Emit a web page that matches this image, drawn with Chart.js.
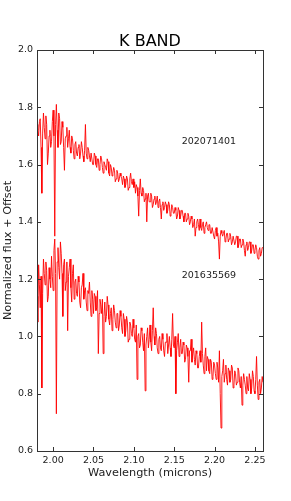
<!DOCTYPE html>
<html>
<head>
<meta charset="utf-8">
<script src="https://cdn.jsdelivr.net/npm/chart.js@4/dist/chart.umd.min.js"></script>
<style>
  body { margin: 0; background: #fff; }
  canvas { display: block; }
</style>
</head>
<body>
<canvas id="grafico" width="291" height="501"></canvas>
<script>
// wavelength grid (microns)
var wavelength = [
  1.980, 1.981, 1.982, 1.983, 1.984, 1.985, 1.986, 1.987, 1.988, 1.989,
  1.990, 1.991, 1.992, 1.993, 1.994, 1.995, 1.996, 1.997, 1.998, 1.999,
  2.000, 2.001, 2.002, 2.003, 2.004, 2.005, 2.006, 2.007, 2.008, 2.009,
  2.010, 2.011, 2.012, 2.013, 2.014, 2.015, 2.016, 2.017, 2.018, 2.019,
  2.020, 2.021, 2.022, 2.023, 2.024, 2.025, 2.026, 2.027, 2.028, 2.029,
  2.030, 2.031, 2.032, 2.033, 2.034, 2.035, 2.036, 2.037, 2.038, 2.039,
  2.040, 2.041, 2.042, 2.043, 2.044, 2.045, 2.046, 2.047, 2.048, 2.049,
  2.050, 2.051, 2.052, 2.053, 2.054, 2.055, 2.056, 2.057, 2.058, 2.059,
  2.060, 2.061, 2.062, 2.063, 2.064, 2.065, 2.066, 2.067, 2.068, 2.069,
  2.070, 2.071, 2.072, 2.073, 2.074, 2.075, 2.076, 2.077, 2.078, 2.079,
  2.080, 2.081, 2.082, 2.083, 2.084, 2.085, 2.086, 2.087, 2.088, 2.089,
  2.090, 2.091, 2.092, 2.093, 2.094, 2.095, 2.096, 2.097, 2.098, 2.099,
  2.100, 2.101, 2.102, 2.103, 2.104, 2.105, 2.106, 2.107, 2.108, 2.109,
  2.110, 2.111, 2.112, 2.113, 2.114, 2.115, 2.116, 2.117, 2.118, 2.119,
  2.120, 2.121, 2.122, 2.123, 2.124, 2.125, 2.126, 2.127, 2.128, 2.129,
  2.130, 2.131, 2.132, 2.133, 2.134, 2.135, 2.136, 2.137, 2.138, 2.139,
  2.140, 2.141, 2.142, 2.143, 2.144, 2.145, 2.146, 2.147, 2.148, 2.149,
  2.150, 2.151, 2.152, 2.153, 2.154, 2.155, 2.156, 2.157, 2.158, 2.159,
  2.160, 2.161, 2.162, 2.163, 2.164, 2.165, 2.166, 2.167, 2.168, 2.169,
  2.170, 2.171, 2.172, 2.173, 2.174, 2.175, 2.176, 2.177, 2.178, 2.179,
  2.180, 2.181, 2.182, 2.183, 2.184, 2.185, 2.186, 2.187, 2.188, 2.189,
  2.190, 2.191, 2.192, 2.193, 2.194, 2.195, 2.196, 2.197, 2.198, 2.199,
  2.200, 2.201, 2.202, 2.203, 2.204, 2.205, 2.206, 2.207, 2.208, 2.209,
  2.210, 2.211, 2.212, 2.213, 2.214, 2.215, 2.216, 2.217, 2.218, 2.219,
  2.220, 2.221, 2.222, 2.223, 2.224, 2.225, 2.226, 2.227, 2.228, 2.229,
  2.230, 2.231, 2.232, 2.233, 2.234, 2.235, 2.236, 2.237, 2.238, 2.239,
  2.240, 2.241, 2.242, 2.243, 2.244, 2.245, 2.246, 2.247, 2.248, 2.249,
  2.250, 2.251, 2.252, 2.253, 2.254, 2.255, 2.256, 2.257, 2.258, 2.259,
  2.260
];

// 202071401 (offset spectrum, top)
var flux202071401 = [
  1.74, 1.72, 1.70, 1.75, 1.76, 1.66, 1.50, 1.71, 1.78, 1.73,
  1.69, 1.77, 1.74, 1.60, 1.64, 1.70, 1.72, 1.66, 1.68, 1.75,
  1.79, 1.70, 1.35, 1.74, 1.81, 1.72, 1.66, 1.78, 1.76, 1.67,
  1.68, 1.75, 1.73, 1.66, 1.58, 1.69, 1.70, 1.73, 1.66, 1.69,
  1.72, 1.66, 1.64, 1.70, 1.69, 1.65, 1.62, 1.67, 1.68, 1.64,
  1.63, 1.66, 1.67, 1.62, 1.64, 1.68, 1.66, 1.63, 1.61, 1.65,
  1.74, 1.64, 1.62, 1.66, 1.65, 1.63, 1.61, 1.64, 1.64, 1.60,
  1.60, 1.64, 1.63, 1.60, 1.59, 1.62, 1.62, 1.58, 1.60, 1.63,
  1.62, 1.59, 1.57, 1.61, 1.60, 1.59, 1.58, 1.62, 1.61, 1.57,
  1.56, 1.60, 1.59, 1.56, 1.57, 1.59, 1.58, 1.54, 1.55, 1.58,
  1.57, 1.54, 1.55, 1.57, 1.56, 1.55, 1.53, 1.56, 1.55, 1.52,
  1.53, 1.56, 1.55, 1.51, 1.52, 1.55, 1.57, 1.54, 1.53, 1.55,
  1.52, 1.54, 1.50, 1.53, 1.52, 1.49, 1.42, 1.51, 1.55, 1.50,
  1.49, 1.52, 1.51, 1.47, 1.48, 1.50, 1.40, 1.49, 1.50, 1.47,
  1.47, 1.50, 1.49, 1.45, 1.46, 1.48, 1.49, 1.46, 1.47, 1.49,
  1.45, 1.47, 1.48, 1.45, 1.41, 1.46, 1.47, 1.44, 1.45, 1.47,
  1.46, 1.43, 1.44, 1.47, 1.46, 1.42, 1.43, 1.46, 1.45, 1.43,
  1.43, 1.45, 1.44, 1.41, 1.42, 1.45, 1.44, 1.41, 1.42, 1.44,
  1.44, 1.42, 1.40, 1.43, 1.43, 1.40, 1.41, 1.43, 1.42, 1.39,
  1.40, 1.42, 1.41, 1.38, 1.39, 1.41, 1.35, 1.38, 1.40, 1.41,
  1.39, 1.37, 1.41, 1.38, 1.37, 1.39, 1.40, 1.36, 1.38, 1.39,
  1.40, 1.38, 1.37, 1.39, 1.39, 1.36, 1.36, 1.38, 1.38, 1.35,
  1.34, 1.37, 1.38, 1.35, 1.36, 1.33, 1.27, 1.35, 1.37, 1.36,
  1.35, 1.36, 1.37, 1.33, 1.34, 1.36, 1.36, 1.33, 1.34, 1.36,
  1.35, 1.32, 1.33, 1.35, 1.35, 1.32, 1.33, 1.35, 1.35, 1.31,
  1.32, 1.34, 1.34, 1.31, 1.32, 1.34, 1.33, 1.30, 1.28, 1.32,
  1.33, 1.30, 1.31, 1.33, 1.33, 1.29, 1.30, 1.32, 1.32, 1.29,
  1.30, 1.32, 1.31, 1.28, 1.27, 1.30, 1.31, 1.28, 1.29, 1.31,
  1.31
];

// 201635569 (bottom)
var flux201635569 = [
  1.14, 1.05, 1.25, 1.18, 1.10, 1.21, 0.82, 1.15, 1.27, 1.22,
  1.18, 1.26, 1.23, 1.12, 1.14, 1.24, 1.20, 1.17, 1.28, 1.21,
  1.16, 1.30, 1.34, 1.22, 0.73, 1.26, 1.31, 1.24, 1.20, 1.33,
  1.29, 1.22, 1.07, 1.25, 1.27, 1.16, 1.19, 1.26, 1.02, 1.21,
  1.24, 1.27, 1.17, 1.12, 1.22, 1.25, 1.13, 1.19, 1.20, 1.15,
  1.14, 1.21, 1.19, 1.12, 1.10, 1.17, 1.18, 1.22, 1.13, 1.16,
  1.17, 1.12, 1.09, 1.16, 1.15, 1.19, 1.12, 1.07, 1.16, 1.13,
  1.08, 1.15, 1.14, 1.09, 1.10, 1.16, 0.94, 1.08, 1.13, 1.11,
  1.08, 1.13, 0.94, 1.07, 1.12, 1.05, 1.07, 1.14, 1.11, 1.06,
  1.04, 1.08, 1.10, 1.02, 1.06, 1.11, 1.09, 1.05, 1.03, 1.08,
  1.08, 1.02, 1.04, 1.09, 1.07, 1.03, 1.01, 1.08, 1.06, 1.00,
  1.02, 1.07, 1.05, 0.98, 0.99, 1.05, 1.04, 1.01, 1.00, 1.06,
  1.03, 0.99, 0.98, 1.04, 0.85, 1.00, 1.01, 0.96, 0.97, 1.03,
  1.02, 0.98, 0.95, 1.01, 0.81, 0.97, 1.00, 1.03, 0.96, 0.99,
  1.04, 0.98, 0.95, 1.02, 1.10, 1.00, 0.97, 1.03, 1.01, 0.96,
  0.94, 0.99, 1.00, 0.96, 0.95, 1.01, 0.99, 0.95, 0.93, 0.98,
  0.98, 1.01, 0.94, 0.97, 1.00, 0.96, 0.93, 0.99, 1.08, 0.97,
  0.96, 1.00, 0.80, 0.95, 0.98, 1.01, 0.93, 0.96, 0.99, 0.94,
  0.94, 0.98, 0.97, 0.91, 0.92, 0.97, 0.96, 0.93, 0.84, 0.95,
  0.95, 0.99, 0.91, 0.94, 0.96, 0.92, 0.90, 0.95, 0.94, 0.89,
  0.89, 0.93, 0.95, 0.91, 1.05, 0.94, 0.90, 0.87, 0.93, 0.96,
  0.88, 0.93, 0.92, 0.88, 0.87, 0.92, 0.91, 0.85, 0.86, 0.91,
  0.90, 0.87, 0.85, 0.91, 0.89, 0.84, 0.95, 0.80, 0.68, 0.86,
  0.88, 0.92, 0.84, 0.87, 0.90, 0.85, 0.83, 0.89, 0.88, 0.84,
  0.85, 0.90, 0.89, 0.82, 0.83, 0.88, 0.87, 0.83, 0.84, 0.89,
  0.88, 0.84, 0.82, 0.86, 0.76, 0.83, 0.87, 0.85, 0.83, 0.80,
  0.86, 0.82, 0.81, 0.87, 0.85, 0.80, 0.82, 0.88, 0.86, 0.81,
  0.80, 0.85, 0.93, 0.83, 0.78, 0.84, 0.85, 0.80, 0.82, 0.86,
  0.84
];

var xTicks = [2.00, 2.05, 2.10, 2.15, 2.20, 2.25];
var yTicks = [0.6, 0.8, 1.0, 1.2, 1.4, 1.6, 1.8, 2.0];

var etiquetas = [
  { texto: '202071401', x: 2.193, y: 1.682 },
  { texto: '201635569', x: 2.193, y: 1.211 }
];

var fonte = 'DejaVu Sans';

function montarPontos(fluxo) {
  return wavelength.map(function (w, i) { return { x: w, y: fluxo[i] }; });
}

// moldura, ticks internos e textos no estilo matplotlib
var molduraPlugin = {
  id: 'moldura',
  afterDraw: function (chart) {
    var ctx = chart.ctx;
    var a = chart.chartArea;
    var sx = chart.scales.x;
    var sy = chart.scales.y;
    ctx.save();
    ctx.strokeStyle = '#333';
    ctx.lineWidth = 1;
    ctx.beginPath();
    xTicks.forEach(function (v) {
      var px = Math.round(sx.getPixelForValue(v)) + 0.5;
      ctx.moveTo(px, a.bottom); ctx.lineTo(px, a.bottom - 4);
      ctx.moveTo(px, a.top); ctx.lineTo(px, a.top + 4);
    });
    yTicks.forEach(function (v) {
      var py = Math.round(sy.getPixelForValue(v)) + 0.5;
      ctx.moveTo(a.left, py); ctx.lineTo(a.left + 4, py);
      ctx.moveTo(a.right, py); ctx.lineTo(a.right - 4, py);
    });
    ctx.stroke();
    ctx.strokeRect(Math.round(a.left) + 0.5, Math.round(a.top) + 0.5,
      Math.round(a.right - a.left), Math.round(a.bottom - a.top));

    ctx.fillStyle = '#000';
    ctx.textAlign = 'center';
    ctx.textBaseline = 'alphabetic';
    ctx.font = '16px "' + fonte + '"';
    ctx.fillText('K BAND', (a.left + a.right) / 2, 46);

    ctx.fillStyle = '#222';
    ctx.textBaseline = 'middle';
    ctx.font = '11.3px "' + fonte + '"';
    ctx.fillText('Wavelength (microns)', (a.left + a.right) / 2, 473);

    ctx.save();
    ctx.translate(8, (a.top + a.bottom) / 2);
    ctx.rotate(-Math.PI / 2);
    ctx.fillText('Normalized flux + Offset', 0, 0);
    ctx.restore();

    ctx.font = '9.5px "' + fonte + '"';
    etiquetas.forEach(function (e) {
      ctx.fillText(e.texto, sx.getPixelForValue(e.x), sy.getPixelForValue(e.y));
    });
    ctx.restore();
  }
};

var ctx = document.getElementById('grafico').getContext('2d');

var meuGrafico = new Chart(ctx, {
  type: 'line',
  data: {
    datasets: [{
      label: '202071401',
      data: montarPontos(flux202071401),
      borderColor: 'rgba(255, 0, 0, 0.9)',
      borderWidth: 1,
      pointRadius: 0,
      tension: 0
    }, {
      label: '201635569',
      data: montarPontos(flux201635569),
      borderColor: 'rgba(255, 0, 0, 0.9)',
      borderWidth: 1,
      pointRadius: 0,
      tension: 0
    }]
  },
  options: {
    responsive: false,
    animation: false,
    devicePixelRatio: 1,
    layout: { padding: { top: 50, right: 28, left: 0, bottom: 0 } },
    plugins: {
      legend: { display: false },
      tooltip: { enabled: false }
    },
    scales: {
      x: {
        type: 'linear',
        min: 1.98,
        max: 2.26,
        afterBuildTicks: function (s) { s.ticks = xTicks.map(function (v) { return { value: v }; }); },
        afterFit: function (s) { s.height = 50; },
        grid: { display: false, drawTicks: false },
        border: { display: false },
        ticks: {
          autoSkip: false,
          maxRotation: 0,
          padding: 4,
          color: '#222',
          font: { family: fonte, size: 9.5 },
          callback: function (v) { return Number(v).toFixed(2); }
        }
      },
      y: {
        type: 'linear',
        min: 0.6,
        max: 2.0,
        afterBuildTicks: function (s) { s.ticks = yTicks.map(function (v) { return { value: v }; }); },
        afterFit: function (s) { s.width = 37; },
        grid: { display: false, drawTicks: false },
        border: { display: false },
        ticks: {
          autoSkip: false,
          padding: 4,
          color: '#222',
          font: { family: fonte, size: 9.5 },
          callback: function (v) { return Number(v).toFixed(1); }
        }
      }
    }
  },
  plugins: [molduraPlugin]
});
</script>
</body>
</html>
